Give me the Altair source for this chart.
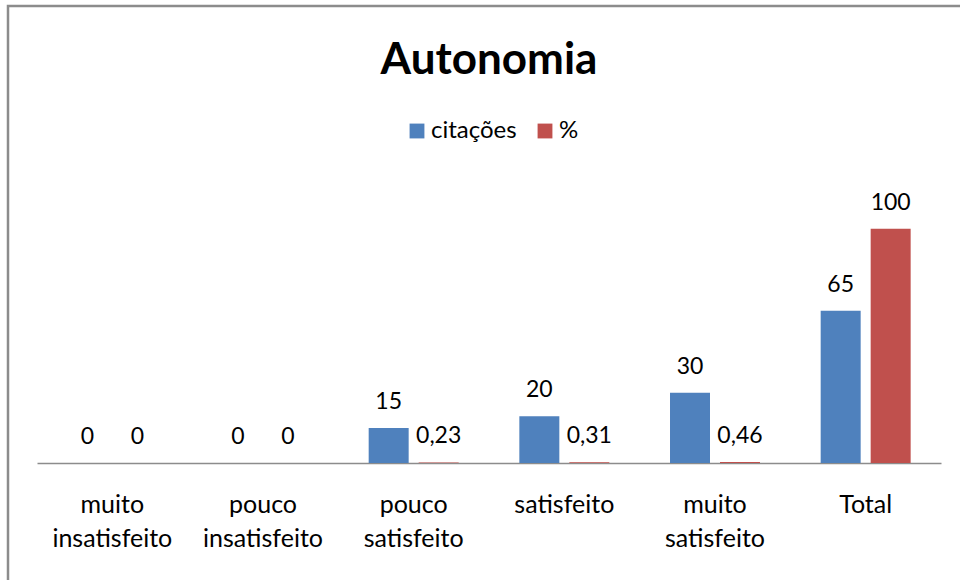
import altair as alt
import pandas as pd

categorias = ["muito insatisfeito", "pouco insatisfeito", "pouco satisfeito",
              "satisfeito", "muito satisfeito", "Total"]
citacoes = [0, 0, 15, 20, 30, 65]
percentual = [0, 0, 0.23, 0.31, 0.46, 100]
series = ["citações", "%"]
cores = ["#4F81BD", "#C0504D"]

FONT = "Lato"


def fmt(v):
    s = f"{v:g}"
    return s.replace(".", ",")


rows = []
for c, a, b in zip(categorias, citacoes, percentual):
    rows.append({"cat": c, "serie": series[0], "valor": a, "rotulo": fmt(a)})
    rows.append({"cat": c, "serie": series[1], "valor": b, "rotulo": fmt(b)})
df = pd.DataFrame(rows)

x = alt.X("cat:N", sort=categorias,
          scale=alt.Scale(paddingInner=0, paddingOuter=0),
          axis=alt.Axis(title=None, labelAngle=0, ticks=False, grid=False,
                        domainColor="#8C8C8C", domainWidth=1.5,
                        labelPadding=29, labelExpr="split(datum.label, ' ')",
                        labelFont=FONT, labelFontSize=25, labelLineHeight=34,
                        labelColor="#000000", labelBaseline="top"))
xo = alt.XOffset("serie:N",
                 scale=alt.Scale(domain=series, paddingInner=0.2, paddingOuter=0.607))
y = alt.Y("valor:Q", scale=alt.Scale(domain=[0, 120]), axis=None)
color = alt.Color("serie:N",
                  scale=alt.Scale(domain=series, range=cores),
                  legend=alt.Legend(title=None, orient="none", legendX=368, legendY=-63,
                                    direction="horizontal", symbolType="square",
                                    symbolSize=220, symbolStrokeWidth=0,
                                    labelFont=FONT, labelFontSize=24, labelColor="#000000",
                                    labelOffset=2, columnPadding=16))

bars = alt.Chart(df).mark_bar().encode(
    x=x, xOffset=xo, y=y, color=color)

labels = alt.Chart(df).mark_text(font=FONT, fontSize=23, color="#000000",
                                 baseline="alphabetic", dy=-19).encode(
    x=x, xOffset=xo, y=y, text="rotulo:N")

frame = alt.Chart(pd.DataFrame({"k": [0]})).mark_rect(
    fill=None, stroke="#8C8C8C", strokeWidth=2.5).encode(
    x=alt.value(-29), x2=alt.value(1000), y=alt.value(-176), y2=alt.value(500))

chart = alt.layer(frame, bars, labels).properties(
    width=904, height=281,
    title=alt.Title("Autonomia", font=FONT, fontSize=44, fontWeight="bold",
                    color="#000000", anchor="middle", baseline="alphabetic",
                    offset=-113),
    autosize=alt.AutoSizeParams(type="none"),
    padding={"left": 37, "top": 182, "right": 19, "bottom": 117},
).configure(background="#ffffff").configure_view(stroke=None)

chart.save("out.html", embed_options={"renderer": "svg", "actions": False})
